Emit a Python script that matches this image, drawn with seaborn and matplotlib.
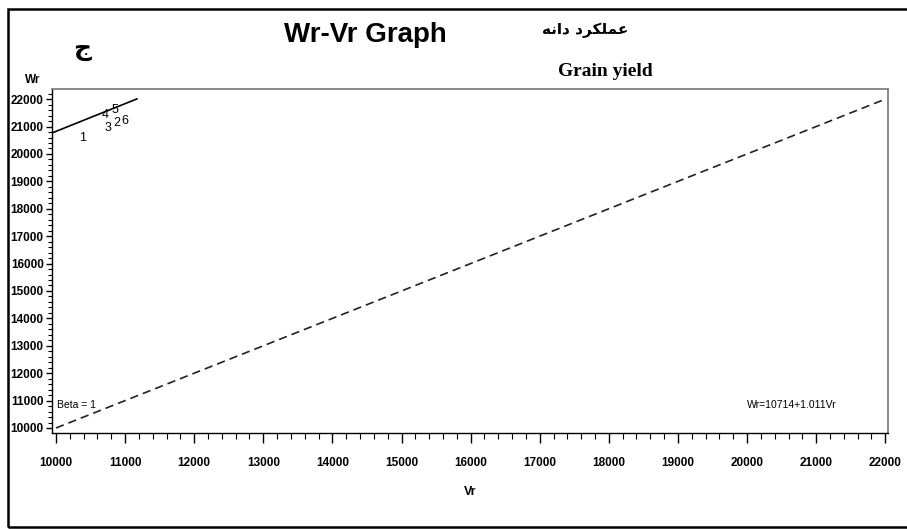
import matplotlib
matplotlib.use("Agg")
import matplotlib.pyplot as plt
import matplotlib.ticker as mticker
from matplotlib.patches import Rectangle
import seaborn as sns
import pandas as pd

# 数据
parent_labels = ["1", "2", "3", "4", "5", "6"]
parent_vr = [10391, 10884, 10754, 10710, 10855, 11000]
parent_wr = [20577, 21124, 20942, 21416, 21600, 21197]

reg_intercept = 10714
reg_slope = 1.011
reg_vr = [9942, 11174]

beta_vr = [10000, 22000]
beta_wr = [10000, 22000]

x_ticks = list(range(10000, 22001, 1000))
y_ticks = list(range(10000, 22001, 1000))

sns.set_theme(style="white")
plt.rcParams["font.family"] = ["Liberation Sans", "DejaVu Sans"]
plt.rcParams["text.color"] = "black"
plt.rcParams["xtick.color"] = "black"
plt.rcParams["ytick.color"] = "black"

fig = plt.figure(figsize=(9.07, 5.29), dpi=100)
ax = fig.add_axes([0.0573, 0.1815, 0.922, 0.650])

# Beta = 1 参考线
df_beta = pd.DataFrame({"Vr": beta_vr, "Wr": beta_wr})
sns.lineplot(data=df_beta, x="Vr", y="Wr", ax=ax, color="#222222",
             linewidth=1.2, linestyle=(0, (5, 3)))

# 回归线
df_reg = pd.DataFrame({"Vr": reg_vr,
                       "Wr": [reg_intercept + reg_slope * v for v in reg_vr]})
sns.lineplot(data=df_reg, x="Vr", y="Wr", ax=ax, color="black", linewidth=1.2)

# 亲本编号
for lab, vx, wy in zip(parent_labels, parent_vr, parent_wr):
    ax.text(vx, wy, lab, ha="center", va="center", fontsize=9, color="black")

ax.text(10015, 10832, "Beta = 1", ha="left", va="center", fontsize=7.5)
ax.text(20652, 10832, "Wr=10714+1.011Vr", ha="center", va="center", fontsize=7.5)

ax.set_xlim(9942, 22043)
ax.set_ylim(9818, 22365)
ax.set_xticks(x_ticks)
ax.set_yticks(y_ticks)
ax.xaxis.set_minor_locator(mticker.AutoMinorLocator(5))
ax.yaxis.set_minor_locator(mticker.AutoMinorLocator(5))
ax.tick_params(axis="both", which="both", bottom=True, left=True,
               top=False, right=False)
ax.tick_params(axis="x", which="major", direction="out", length=7, width=1,
               labelsize=8.5, pad=10)
ax.tick_params(axis="x", which="minor", direction="out", length=4, width=0.8)
ax.tick_params(axis="y", which="major", direction="out", length=4, width=1,
               labelsize=8.5, pad=2)
ax.tick_params(axis="y", which="minor", direction="out", length=3, width=0.8)
for lab in ax.get_xticklabels() + ax.get_yticklabels():
    lab.set_fontweight("bold")
ax.xaxis.set_major_formatter(mticker.FormatStrFormatter("%d"))
ax.yaxis.set_major_formatter(mticker.FormatStrFormatter("%d"))

ax.set_xlabel("")
ax.set_ylabel("")
for side in ["left", "bottom"]:
    ax.spines[side].set_color("black")
    ax.spines[side].set_linewidth(1.0)
for side in ["top", "right"]:
    ax.spines[side].set_color("#808080")
    ax.spines[side].set_linewidth(1.3)

# 标题与文字
fig.text(365 / 907, 1 - 35 / 529, "Wr-Vr Graph", ha="center", va="center",
         fontsize=20, fontweight="bold")
fig.text(585 / 907, 1 - 30 / 529,
         "\uFEEA\uFEE7\uFE8D\uFEA9 \uFEA9\uFEAE\uFB91\uFEE0\uFEE4\uFECB",
         ha="center", va="center", fontsize=11, fontweight="bold",
         family=["DejaVu Sans"])
fig.text(605 / 907, 1 - 72 / 529, "Grain yield", ha="center", va="center",
         fontsize=14, fontweight="bold", family=["Liberation Serif"])
fig.text(82 / 907, 1 - 49 / 529, "\uFE9D", ha="center", va="center",
         fontsize=18, fontweight="bold", family=["DejaVu Sans"])
fig.text(33 / 907, 1 - 80 / 529, "Wr", ha="center", va="center",
         fontsize=8.5, fontweight="bold")
fig.text(470 / 907, 1 - 492 / 529, "Vr", ha="center", va="center",
         fontsize=9, fontweight="bold")

# 外框
fig.patches.append(Rectangle((8 / 907, 2 / 529), 1.0, 1 - 9 / 529 - 2 / 529,
                             transform=fig.transFigure, fill=False,
                             edgecolor="black", linewidth=1.8))

fig.savefig("out.png", dpi=100)
plt.close(fig)
